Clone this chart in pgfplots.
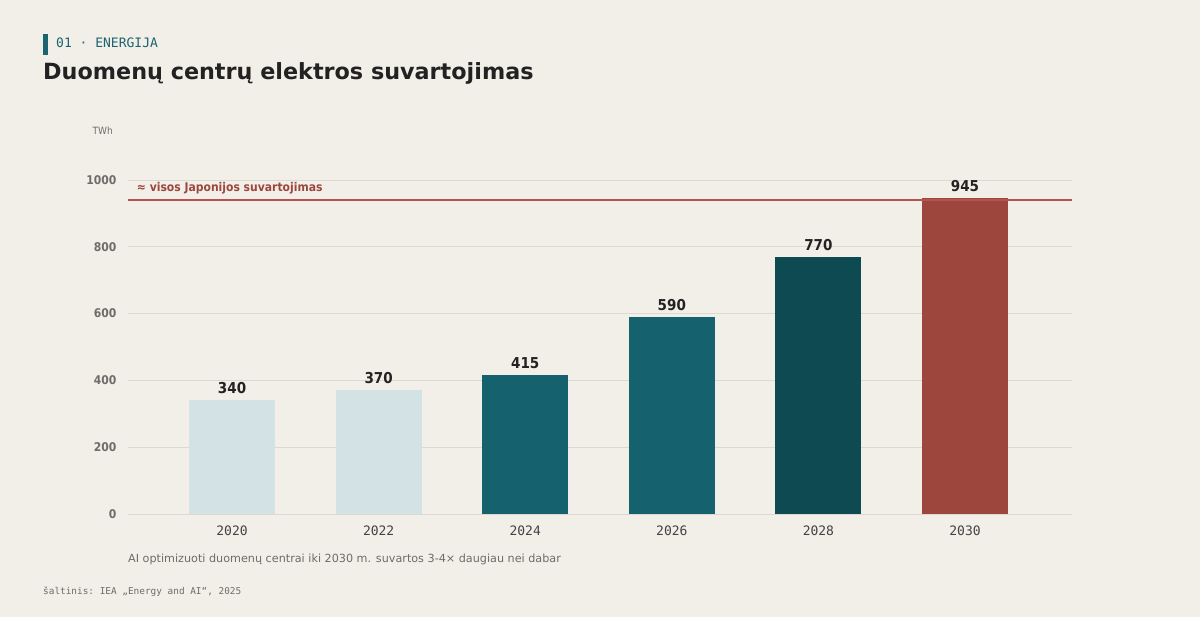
\documentclass[border=0pt]{standalone}
\usepackage{pgfplots}
\pgfplotsset{compat=1.18}
\usepackage{fontspec}
\setmainfont{DejaVu Sans}
\setmonofont{DejaVu Sans Mono}
\newfontfamily\cond{DejaVu Sans}[FakeStretch=0.9]
\definecolor{bg}{HTML}{F2EFE9}
\definecolor{light}{HTML}{D3E2E5}
\definecolor{teal}{HTML}{15616D}
\definecolor{dteal}{HTML}{0E4A52}
\definecolor{rust}{HTML}{9C463D}
\definecolor{rline}{HTML}{B5544C}
\definecolor{gridc}{HTML}{DDD9D2}
\definecolor{txt}{HTML}{222222}
\definecolor{gtxt}{HTML}{6E6C68}
\definecolor{head}{HTML}{1C6470}
\pgfplotsset{barlab/.style={nodes near coords, every node near coord/.append style={font=\cond\bfseries\fontsize{15}{17}\selectfont,text=txt,yshift=3pt}}}
\begin{document}
\begin{tikzpicture}
\fill[bg] (0pt,0pt) rectangle (1200pt,-617pt);
% header
\fill[head] (43pt,-34pt) rectangle (47.5pt,-55pt);
\node[anchor=west,inner sep=0,text=head,font=\ttfamily\fontsize{13}{15}\selectfont] at (56pt,-43pt) {01 · ENERGIJA};
\node[anchor=west,inner sep=0,text=txt,font=\bfseries\fontsize{22.3}{26}\selectfont] at (43pt,-73pt) {Duomenų centrų elektros suvartojimas};
\node[anchor=east,inner sep=0,text=gtxt,font=\cond\fontsize{10}{12}\selectfont] at (113pt,-131pt) {TWh};
\begin{axis}[
  at={(128pt,-514pt)}, anchor=south west,
  scale only axis, width=944pt, height=334pt,
  xmin=-0.71, xmax=5.73, ymin=0, ymax=1000,
  clip=false,
  axis line style={draw=none},
  major tick length=0pt,
  xtick={0,1,2,3,4,5},
  xticklabels={2020,2022,2024,2026,2028,2030},
  ytick={0,200,400,600,800,1000},
  ymajorgrids, grid style={gridc,line width=0.9pt},
  /pgf/number format/assume math mode=true,
  /pgf/number format/1000 sep={},
  xticklabel style={font=\ttfamily\fontsize{13}{15}\selectfont,text=txt!85, yshift=-8pt},
  yticklabel style={font=\cond\bfseries\fontsize{12}{14}\selectfont,text=gtxt, xshift=-8pt},
  ybar, bar width=86pt, bar shift=0pt,
]
\addplot[draw=none,fill=light,barlab] coordinates {(0,340)};
\addplot[draw=none,fill=light,barlab] coordinates {(1,370)};
\addplot[draw=none,fill=teal,barlab] coordinates {(2,415)};
\addplot[draw=none,fill=teal,barlab] coordinates {(3,590)};
\addplot[draw=none,fill=dteal,barlab] coordinates {(4,770)};
\addplot[draw=none,fill=rust,barlab] coordinates {(5,945)};
\addplot[sharp plot, no marks, draw=rline, fill=none, line width=1.6pt, forget plot] coordinates {(-0.71,940) (5.73,940)};
\node[anchor=south west,inner sep=0,text=rust,font=\cond\bfseries\fontsize{12}{14}\selectfont] at (axis cs:-0.65,958) {≈ visos Japonijos suvartojimas};
\end{axis}
\node[anchor=west,inner sep=0,text=gtxt,font=\fontsize{11.2}{14}\selectfont] at (128pt,-559pt) {AI optimizuoti duomenų centrai iki 2030 m. suvartos 3-4× daugiau nei dabar};
\node[anchor=west,inner sep=0,text=gtxt,font=\ttfamily\fontsize{9.4}{12}\selectfont] at (43pt,-592pt) {šaltinis: IEA „Energy and AI“, 2025};
\end{tikzpicture}
\end{document}
